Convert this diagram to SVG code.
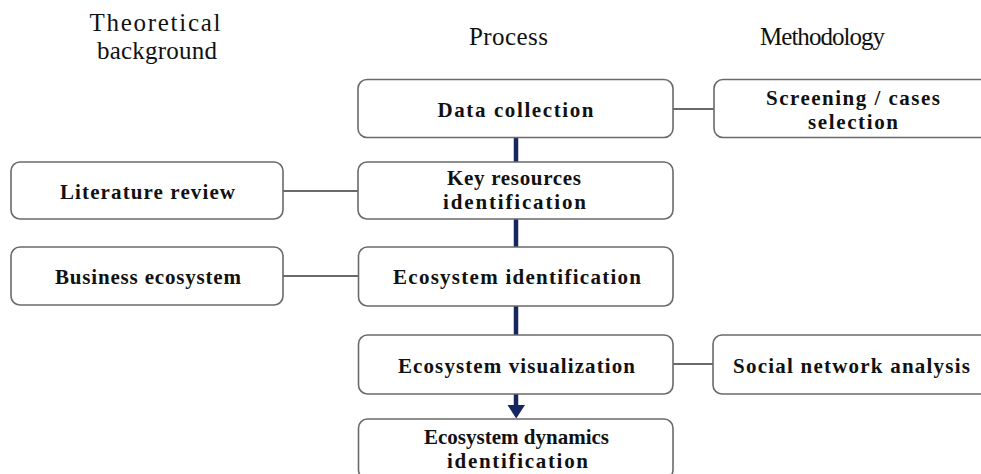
<svg xmlns="http://www.w3.org/2000/svg" width="981" height="474" viewBox="0 0 981 474">
  <style>
    .box { fill: #ffffff; stroke: #6a6a6a; stroke-width: 1.6; }
    .lbl { font-family: "Liberation Serif", "Times New Roman", serif; font-weight: bold; font-size: 21px; fill: #111111; text-anchor: middle; }
    .hdr { font-family: "Liberation Serif", "Times New Roman", serif; font-size: 25px; fill: #111111; text-anchor: middle; }
    .link { stroke: #6a6a6a; stroke-width: 2.2; fill: none; }
    .flow { stroke: #15275e; stroke-width: 4.5; fill: none; }
    .head { fill: #15275e; }
  </style>

  <rect width="981" height="474" fill="#ffffff"/>

  <!-- column headings -->
  <g id="headings">
    <text class="hdr" x="155" y="31" textLength="131" lengthAdjust="spacing">Theoretical</text>
    <text class="hdr" x="157" y="59" textLength="120" lengthAdjust="spacing">background</text>
    <text class="hdr" x="508.5" y="45" textLength="79" lengthAdjust="spacing">Process</text>
    <text class="hdr" x="822.5" y="45" textLength="125" lengthAdjust="spacing">Methodology</text>
  </g>

  <!-- connectors -->
  <g id="connectors">
    <line class="link" x1="673" y1="109" x2="714" y2="109"/>
    <line class="link" x1="283" y1="191" x2="358" y2="191"/>
    <line class="link" x1="283" y1="276" x2="358" y2="276"/>
    <line class="link" x1="673" y1="364" x2="713" y2="364"/>
    <line class="flow" x1="516" y1="137.5" x2="516" y2="162"/>
    <line class="flow" x1="516" y1="219" x2="516" y2="247"/>
    <line class="flow" x1="516" y1="306" x2="516" y2="335"/>
    <line class="flow" x1="516" y1="394" x2="516" y2="406"/>
    <polygon class="head" points="507.5,405 525,405 516.2,418.5"/>
  </g>

  <!-- process column -->
  <g id="data-collection">
    <rect class="box" x="358" y="79.5" width="315" height="58" rx="9"/>
    <text class="lbl" x="515.5" y="117" textLength="156" lengthAdjust="spacing">Data collection</text>
  </g>
  <g id="key-resources">
    <rect class="box" x="358" y="162" width="315" height="57" rx="9"/>
    <text class="lbl" x="514" y="185" textLength="134" lengthAdjust="spacing">Key resources</text>
    <text class="lbl" x="514.5" y="209" textLength="143" lengthAdjust="spacing">identification</text>
  </g>
  <g id="ecosystem-identification">
    <rect class="box" x="358.5" y="247" width="314.5" height="59" rx="9"/>
    <text class="lbl" x="517" y="284" textLength="248" lengthAdjust="spacing">Ecosystem identification</text>
  </g>
  <g id="ecosystem-visualization">
    <rect class="box" x="358.5" y="335" width="314.5" height="59" rx="9"/>
    <text class="lbl" x="516.5" y="373" textLength="237" lengthAdjust="spacing">Ecosystem visualization</text>
  </g>
  <g id="ecosystem-dynamics">
    <rect class="box" x="358.5" y="419" width="314.5" height="60" rx="9"/>
    <text class="lbl" x="516.5" y="444" textLength="185" lengthAdjust="spacing">Ecosystem dynamics</text>
    <text class="lbl" x="517.5" y="468" textLength="141" lengthAdjust="spacing">identification</text>
  </g>

  <!-- theoretical background column -->
  <g id="literature-review">
    <rect class="box" x="11" y="162" width="272" height="57" rx="9"/>
    <text class="lbl" x="147.5" y="199" textLength="175" lengthAdjust="spacing">Literature review</text>
  </g>
  <g id="business-ecosystem">
    <rect class="box" x="11" y="247" width="272" height="58" rx="9"/>
    <text class="lbl" x="148" y="284" textLength="186" lengthAdjust="spacing">Business ecosystem</text>
  </g>

  <!-- methodology column -->
  <g id="screening">
    <rect class="box" x="714" y="79.5" width="278" height="58" rx="9"/>
    <text class="lbl" x="853" y="105" textLength="174" lengthAdjust="spacing">Screening / cases</text>
    <text class="lbl" x="853" y="129" textLength="90" lengthAdjust="spacing">selection</text>
  </g>
  <g id="social-network-analysis">
    <rect class="box" x="713" y="335" width="279" height="59" rx="9"/>
    <text class="lbl" x="851.5" y="373" textLength="237" lengthAdjust="spacing">Social network analysis</text>
  </g>
</svg>
